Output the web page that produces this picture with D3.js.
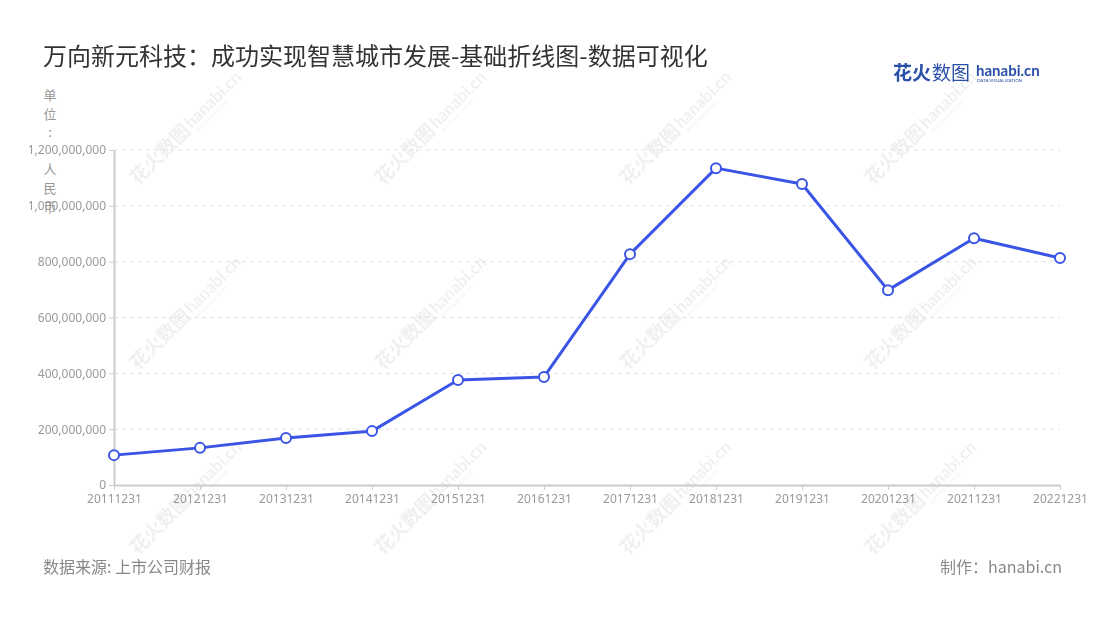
<!DOCTYPE html>
<html>
<head>
<meta charset="utf-8">
<script src="https://cdn.jsdelivr.net/npm/d3@7"></script>
<style>
  body { margin: 0; background: #fff; font-family: "Noto Sans CJK SC", "Noto Sans", sans-serif; }
  .axisStyle text { fill: #999; font-size: 12px; font-family: "Noto Sans", "Noto Sans CJK SC", sans-serif; }
  .axisStyle path, .axisStyle line { stroke: #ccc; }
</style>
</head>
<body>
<div class="chart"></div>
<script>
// data
const dates = ["20111231", "20121231", "20131231", "20141231", "20151231", "20161231",
               "20171231", "20181231", "20191231", "20201231", "20211231", "20221231"];
const revenue = [107000000, 133000000, 168000000, 193000000, 376000000, 387000000,
                 827000000, 1135000000, 1078000000, 698000000, 884000000, 813000000];
const yTicks = [0, 200000000, 400000000, 600000000, 800000000, 1000000000, 1200000000];

const titleText = "万向新元科技：成功实现智慧城市发展-基础折线图-数据可视化";
const unitChars = ["单", "位", ":", " ", "人", "民", "币"];
const sourceText = "数据来源: 上市公司财报";
const makerText = "制作：hanabi.cn";

// margin
const margin = {top: 150, right: 40, bottom: 135, left: 114};
const W = 1100, H = 620;
let width = W - margin.left - margin.right;
let height = H - margin.top - margin.bottom;

let root = d3.select(".chart")
    .append("svg")
    .attr("width", W)
    .attr("height", H);

// watermarks
const wm = root.append("g").attr("opacity", 0.09);
[132, 317, 502].forEach(cy => {
    [183, 428, 673, 918].forEach(cx => {
        let g = wm.append("g").attr("transform", "translate(" + cx + "," + cy + ") rotate(-45)");
        g.append("text").attr("x", -70).attr("y", 6)
            .attr("font-size", 19).attr("font-weight", "bold").attr("fill", "#555")
            .text("花火数图");
        g.append("text").attr("x", 8).attr("y", 4)
            .attr("font-size", 17).attr("font-weight", "bold").attr("fill", "#555")
            .attr("font-family", "Lato, sans-serif")
            .text("hanabi.cn");
        g.append("text").attr("x", 9).attr("y", 11)
            .attr("font-size", 4.5).attr("fill", "#555")
            .text("DATA VISUALIZATION");
    });
});

// title
root.append("text")
    .attr("x", 43).attr("y", 65)
    .attr("font-size", 24).attr("fill", "#333")
    .text(titleText);

// logo
const logo = root.append("g").attr("transform", "translate(893,80)");
logo.append("text").attr("x", 0).attr("y", 0)
    .attr("font-size", 19).attr("font-weight", "bold").attr("fill", "#2a4fa8")
    .text("花火");
logo.append("text").attr("x", 39).attr("y", 0)
    .attr("font-size", 19).attr("fill", "#2a4fa8")
    .text("数图");
logo.append("text").attr("x", 83).attr("y", -4)
    .attr("font-size", 15).attr("font-weight", "bold").attr("fill", "#2a4fa8")
    .attr("font-family", "Lato, sans-serif")
    .text("hanabi.cn");
logo.append("text").attr("x", 84).attr("y", 2)
    .attr("font-size", 4.5).attr("fill", "#2a4fa8")
    .attr("font-family", "Lato, sans-serif")
    .text("DATA VISUALIZATION");

// unit label (vertical)
root.append("g").selectAll("text")
    .data(unitChars)
    .enter()
    .append("text")
    .attr("x", 50)
    .attr("y", (d, i) => 100 + i * 18.6)
    .attr("text-anchor", "middle")
    .attr("font-size", 13).attr("fill", "#999")
    .text(d => d);

let svg = root.append("g")
    .attr("transform", "translate(" + margin.left + "," + margin.top + ")");

// scales
let xScale = d3.scalePoint()
    .domain(dates)
    .range([0, width]);

let yScale = d3.scaleLinear()
    .domain([0, 1200000000])
    .range([height, 0]);

// grid
svg.append("g").selectAll("line")
    .data(yTicks.slice(1))
    .enter()
    .append("line")
    .attr("x1", 0).attr("x2", width)
    .attr("y1", d => yScale(d)).attr("y2", d => yScale(d))
    .attr("stroke", "#e0e0e0")
    .attr("stroke-dasharray", "4,4");

// axes
svg.append("g")
    .attr("class", "axisStyle")
    .attr("transform", "translate(0," + height + ")")
    .call(d3.axisBottom(xScale).tickSize(5).tickSizeOuter(0).tickPadding(4))
    .call(g => g.select(".domain").attr("stroke-width", 2));

svg.append("g")
    .attr("class", "axisStyle")
    .call(d3.axisLeft(yScale).tickValues(yTicks).tickFormat(d3.format(",")).tickSize(5).tickSizeOuter(0).tickPadding(3))
    .call(g => g.select(".domain").attr("stroke-width", 2));

// line
const color = "#3a55e6";
svg.append("path")
    .datum(revenue)
    .attr("fill", "none")
    .attr("stroke", color)
    .attr("stroke-width", 3)
    .attr("stroke-linejoin", "round")
    .attr("d", d3.line().x((d, i) => xScale(dates[i])).y(d => yScale(d)));

svg.selectAll("circle")
    .data(revenue)
    .enter()
    .append("circle")
    .attr("cx", (d, i) => xScale(dates[i]))
    .attr("cy", d => yScale(d))
    .attr("r", 5)
    .attr("fill", "#fff")
    .attr("stroke", color)
    .attr("stroke-width", 2);

// footer
root.append("text")
    .attr("x", 43).attr("y", 573)
    .attr("font-size", 16).attr("fill", "#888")
    .text(sourceText);

root.append("text")
    .attr("x", 1062).attr("y", 573)
    .attr("text-anchor", "end")
    .attr("font-size", 16).attr("fill", "#888")
    .text(makerText);
</script>
</body>
</html>
